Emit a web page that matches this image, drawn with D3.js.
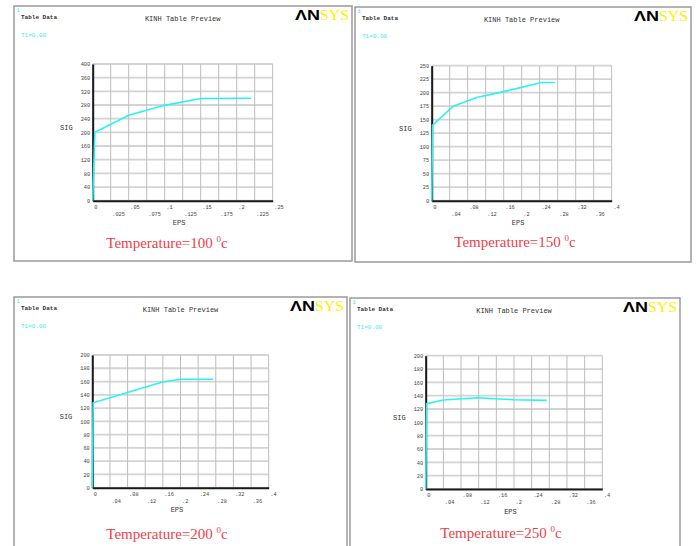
<!DOCTYPE html>
<html>
<head>
<meta charset="utf-8">
<script src="https://cdn.jsdelivr.net/npm/d3@7"></script>
<style>
  body { margin: 0; background: #fff; }
  svg { display: block; }
</style>
</head>
<body>
<script>
// temperatures of the four KINH tables
var temps = [100, 150, 200, 250];

// strain (EPS) and stress (SIG) points
var eps100 = [0, 0.003, 0.05, 0.1, 0.15, 0.22];
var sig100 = [0, 200, 250, 279, 299, 300];
var eps150 = [0, 0.002, 0.048, 0.1, 0.16, 0.244, 0.274];
var sig150 = [0, 140, 175, 191, 202, 219, 219];
var eps200 = [0, 0.002, 0.157, 0.199, 0.274];
var sig200 = [0, 128, 159, 163.5, 163.5];
var eps250 = [0, 0.002, 0.04, 0.117, 0.2, 0.274];
var sig250 = [0, 128, 133.5, 137, 134, 133];

// tick values
var xTicks100 = [0, 0.025, 0.05, 0.075, 0.1, 0.125, 0.15, 0.175, 0.2, 0.225, 0.25];
var xTicks04 = [0, 0.04, 0.08, 0.12, 0.16, 0.2, 0.24, 0.28, 0.32, 0.36, 0.4];
var yTicks100 = [0, 40, 80, 120, 160, 200, 240, 280, 320, 360, 400];
var yTicks150 = [0, 25, 50, 75, 100, 125, 150, 175, 200, 225, 250];
var yTicks200 = [0, 20, 40, 60, 80, 100, 120, 140, 160, 180, 200];

var curves = [
  { eps: eps100, sig: sig100, xt: xTicks100, yt: yTicks100 },
  { eps: eps150, sig: sig150, xt: xTicks04, yt: yTicks150 },
  { eps: eps200, sig: sig200, xt: xTicks04, yt: yTicks200 },
  { eps: eps250, sig: sig250, xt: xTicks04, yt: yTicks200 }
];

// where each panel sits on the page
var layout = [
  { x: 14, y: 6, w: 338, h: 255, px: 92.7, py: 64, pw: 180, ph: 136.7, tx: 167, ty: 248 },
  { x: 355, y: 7, w: 336, h: 255, px: 431.7, py: 65.7, pw: 180, ph: 135, tx: 515, ty: 247 },
  { x: 14, y: 297, w: 333, h: 260, px: 92.3, py: 355, pw: 176.4, ph: 132.7, tx: 167, ty: 539 },
  { x: 350, y: 298, w: 330, h: 260, px: 425.7, py: 355.7, pw: 176.6, ph: 133.3, tx: 501, ty: 538 }
];

var svg = d3.select("body")
  .append("svg")
  .attr("width", 696)
  .attr("height", 546);

var mono = "'Liberation Mono', 'Courier New', monospace";
var fmt = function(d) { return d === 0 ? "0" : String(d).replace(/^0/, ""); };

curves.forEach(function(c, i) {
  var L = layout[i];
  var g = svg.append("g");

  // panel frame
  g.append("rect")
    .attr("x", L.x).attr("y", L.y)
    .attr("width", L.w).attr("height", L.h)
    .attr("fill", "none")
    .attr("stroke", "#9a9a9a")
    .attr("stroke-width", 1.5);

  var x = d3.scaleLinear()
    .domain([0, c.xt[c.xt.length - 1]])
    .range([L.px, L.px + L.pw]);
  var y = d3.scaleLinear()
    .domain([0, c.yt[c.yt.length - 1]])
    .range([L.py + L.ph, L.py]);

  // header texts
  g.append("text").attr("x", L.x + 2.5).attr("y", L.y + 6)
    .attr("font-family", mono).attr("font-size", 5.5).attr("fill", "#2ee6f0").text("1");
  g.append("text").attr("x", L.x + 7).attr("y", L.y + 13)
    .attr("font-family", mono).attr("font-size", 6).attr("font-weight", "bold")
    .attr("fill", "#333").text("Table Data");
  g.append("text").attr("x", L.px + L.pw / 2).attr("y", L.y + 15)
    .attr("text-anchor", "middle")
    .attr("font-family", mono).attr("font-size", 7).attr("fill", "#333")
    .text("KINH Table Preview");
  g.append("text").attr("x", L.x + 7).attr("y", L.y + 31)
    .attr("font-family", mono).attr("font-size", 6).attr("fill", "#3ee8f0")
    .text("T1=0.00");

  // ANSYS logo
  var right = L.x + L.w - 2;
  g.append("text").attr("x", right - 55).attr("y", L.y + 14)
    .attr("font-family", "'Liberation Sans', Arial, sans-serif")
    .attr("font-weight", "bold").attr("font-size", 15)
    .attr("textLength", 25).attr("lengthAdjust", "spacingAndGlyphs")
    .attr("fill", "#000").text("ΛN");
  g.append("text").attr("x", right - 30).attr("y", L.y + 14)
    .attr("font-family", "'Liberation Serif', 'Times New Roman', serif")
    .attr("font-size", 15)
    .attr("textLength", 29).attr("lengthAdjust", "spacingAndGlyphs")
    .attr("fill", "#ffee00").text("SYS");

  // grid
  g.append("g").selectAll("line")
    .data(c.yt)
    .enter()
    .append("line")
    .attr("x1", L.px).attr("x2", L.px + L.pw)
    .attr("y1", function(d) { return y(d); })
    .attr("y2", function(d) { return y(d); })
    .attr("stroke", "#d4d4d4")
    .attr("stroke-width", 1.8);
  g.append("g").selectAll("line")
    .data(c.xt)
    .enter()
    .append("line")
    .attr("x1", function(d) { return x(d); })
    .attr("x2", function(d) { return x(d); })
    .attr("y1", L.py).attr("y2", L.py + L.ph)
    .attr("stroke", "#bdbdbd")
    .attr("stroke-width", 1);

  // axes
  var yAxis = d3.axisLeft(y).tickValues(c.yt).tickSize(0).tickPadding(2.5).tickFormat(fmt);
  var xAxis = d3.axisBottom(x).tickValues(c.xt).tickSize(0).tickFormat(fmt);

  var ya = g.append("g")
    .attr("transform", "translate(" + L.px + ",0)")
    .call(yAxis);
  var xa = g.append("g")
    .attr("transform", "translate(0," + (L.py + L.ph) + ")")
    .call(xAxis);

  [ya, xa].forEach(function(a) {
    a.select(".domain").attr("stroke", "#1a1a1a").attr("stroke-width", 2);
    a.selectAll("text")
      .attr("font-family", mono)
      .attr("font-size", 5.3)
      .attr("fill", "#444");
  });
  xa.selectAll(".tick text")
    .attr("text-anchor", "start")
    .attr("dx", 1)
    .attr("dy", 0)
    .attr("y", function(d, j) { return j % 2 === 0 ? 8 : 15; });

  // axis titles
  g.append("text").attr("x", L.px - 20).attr("y", L.py + L.ph * 0.48)
    .attr("text-anchor", "end")
    .attr("font-family", mono).attr("font-size", 7).attr("fill", "#333")
    .text("SIG");
  g.append("text").attr("x", L.px + L.pw * 0.48).attr("y", L.py + L.ph + 24.5)
    .attr("text-anchor", "middle")
    .attr("font-family", mono).attr("font-size", 7).attr("fill", "#333")
    .text("EPS");

  // curve
  var pts = c.eps.map(function(e, j) { return [e, c.sig[j]]; });
  var line = d3.line()
    .x(function(d) { return x(d[0]); })
    .y(function(d) { return y(d[1]); });
  g.append("path")
    .datum(pts)
    .attr("d", line)
    .attr("fill", "none")
    .attr("stroke", "#2af2f2")
    .attr("stroke-width", 1.6);

  // temperature caption
  var cap = g.append("text")
    .attr("x", L.tx).attr("y", L.ty)
    .attr("text-anchor", "middle")
    .attr("font-family", "'Liberation Serif', 'Times New Roman', serif")
    .attr("font-size", 15)
    .attr("fill", "#f0404a");
  cap.append("tspan").text("Temperature=" + temps[i] + " ");
  cap.append("tspan").attr("font-size", 9).attr("dy", -6).text("0");
  cap.append("tspan").attr("dy", 6).text("c");
});
</script>
</body>
</html>
